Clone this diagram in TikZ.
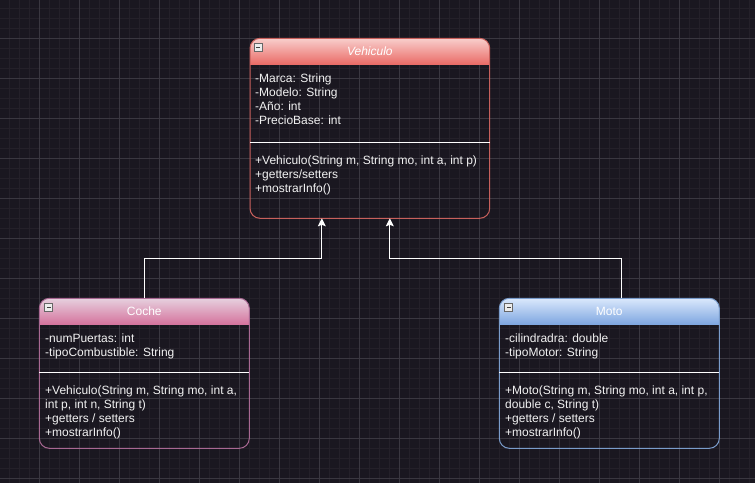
\documentclass[tikz,border=0pt]{standalone}
\usepackage{fontspec}
\setmainfont{Liberation Sans}
\usetikzlibrary{arrows.meta}
\definecolor{bg}{HTML}{1A1720}
\definecolor{gridminor}{HTML}{242029}
\definecolor{gridmajor}{HTML}{3A3740}
\definecolor{txt}{HTML}{F2F2F2}
\definecolor{vehtop}{HTML}{F8CECC}
\definecolor{vehbot}{HTML}{EA6B66}
\definecolor{vehline}{HTML}{C8605C}
\definecolor{cochetop}{HTML}{E6D0DE}
\definecolor{cochebot}{HTML}{D5739D}
\definecolor{cocheline}{HTML}{A86892}
\definecolor{mototop}{HTML}{DAE8FC}
\definecolor{motobot}{HTML}{7EA6E0}
\definecolor{motoline}{HTML}{7A9CCB}
\tikzset{
  classbox/.style={draw, line width=1pt, rounded corners=10pt, inner sep=0pt, outer sep=0pt},
  bodytxt/.style={anchor=base west, inner sep=0pt, text=txt, font=\fontsize{12}{14}\selectfont},
  titletxt/.style={inner sep=0pt, text=white, font=\fontsize{12}{14}\selectfont},
  icon/.style={draw=gray!80!black, fill=gray!15, line width=0.7pt, minimum size=8pt, inner sep=0pt,
    path picture={\draw[black!75, line width=0.8pt] ([xshift=2pt]path picture bounding box.west) -- ([xshift=-2pt]path picture bounding box.east);}},
  sepline/.style={white, line width=1pt},
  conn/.style={white, line width=1pt, -{Stealth[length=8pt,width=8pt,inset=1.5pt]}}
}
\begin{document}
\begin{tikzpicture}[x=1pt,y=-1pt]
\useasboundingbox (0,0) rectangle (755,483);
\fill[bg] (0,0) rectangle (755,483);
\foreach \i in {0,...,75} \draw[gridminor, line width=1pt] (9+10*\i,0) -- (9+10*\i,483);
\foreach \i in {0,...,48} \draw[gridminor, line width=1pt] (0,8+10*\i) -- (755,8+10*\i);
\foreach \i in {0,...,18} \draw[gridmajor, line width=1pt] (39+40*\i,0) -- (39+40*\i,483);
\foreach \i in {0,...,11} \draw[gridmajor, line width=1pt] (0,38+40*\i) -- (755,38+40*\i);

% ---------- Vehiculo ----------
\begin{scope}
\clip[rounded corners=10pt] (250,38.3) rectangle (489.7,218.3);
\shade[top color=vehtop, bottom color=vehbot] (250,38.3) rectangle (489.7,64.3);
\end{scope}
\node[classbox, draw=vehline, minimum width=239.7, minimum height=180] (veh) at (369.85,128.3) {};
\node[titletxt, font=\fontsize{12}{14}\selectfont\itshape] (vehT) at (369.85,51.3) {Vehiculo};
\node[icon] (vehI) at (258.3,47) {};
\draw[sepline] (250,142.7) -- (489.7,142.7);
\node[bodytxt] (va1) at (255,82) {-Marca: String};
\node[bodytxt] (va2) at (255,96) {-Modelo: String};
\node[bodytxt] (va3) at (255,110) {-Año: int};
\node[bodytxt] (va4) at (255,124) {-PrecioBase: int};
\node[bodytxt] (vm1) at (255,164.5) {+Vehiculo(String m, String mo, int a, int p)};
\node[bodytxt] (vm2) at (255,178.5) {+getters/setters};
\node[bodytxt] (vm3) at (255,192.5) {+mostrarInfo()};

% ---------- Coche ----------
\begin{scope}
\clip[rounded corners=10pt] (39.3,298.3) rectangle (249.3,448.3);
\shade[top color=cochetop, bottom color=cochebot] (39.3,298.3) rectangle (249.3,324.3);
\end{scope}
\node[classbox, draw=cocheline, minimum width=210, minimum height=150] (coche) at (144.3,373.3) {};
\node[titletxt] (cocheT) at (144.3,311.5) {Coche};
\node[icon] (cocheI) at (48.8,307.7) {};
\draw[sepline] (39.3,372) -- (249.3,372);
\node[bodytxt] (ca1) at (45,342) {-numPuertas: int};
\node[bodytxt] (ca2) at (45,356) {-tipoCombustible: String};
\node[bodytxt] (cm1) at (45,394.3) {+Vehiculo(String m, String mo, int a,};
\node[bodytxt] (cm2) at (45,408.3) {int p, int n, String t)};
\node[bodytxt] (cm3) at (45,422.2) {+getters / setters};
\node[bodytxt] (cm4) at (45,436.2) {+mostrarInfo()};

% ---------- Moto ----------
\begin{scope}
\clip[rounded corners=10pt] (499.3,298.3) rectangle (719.3,448.3);
\shade[top color=mototop, bottom color=motobot] (499.3,298.3) rectangle (719.3,324.3);
\end{scope}
\node[classbox, draw=motoline, minimum width=220, minimum height=150] (moto) at (609.3,373.3) {};
\node[titletxt] (motoT) at (609.3,311.5) {Moto};
\node[icon] (motoI) at (508.8,307.7) {};
\draw[sepline] (499.3,372) -- (719.3,372);
\node[bodytxt] (ma1) at (505,342) {-cilindradra: double};
\node[bodytxt] (ma2) at (505,356) {-tipoMotor: String};
\node[bodytxt] (mm1) at (505,394.3) {+Moto(String m, String mo, int a, int p,};
\node[bodytxt] (mm2) at (505,408.3) {double c, String t)};
\node[bodytxt] (mm3) at (505,422.2) {+getters / setters};
\node[bodytxt] (mm4) at (505,436.2) {+mostrarInfo()};

% ---------- connectors ----------
\draw[conn] (coche.north) -- ++(0,-40) -| ([xshift=-48]veh.south);
\draw[conn] ([xshift=11.7]moto.north) -- ++(0,-40) -| ([xshift=20]veh.south);
\end{tikzpicture}
\end{document}
